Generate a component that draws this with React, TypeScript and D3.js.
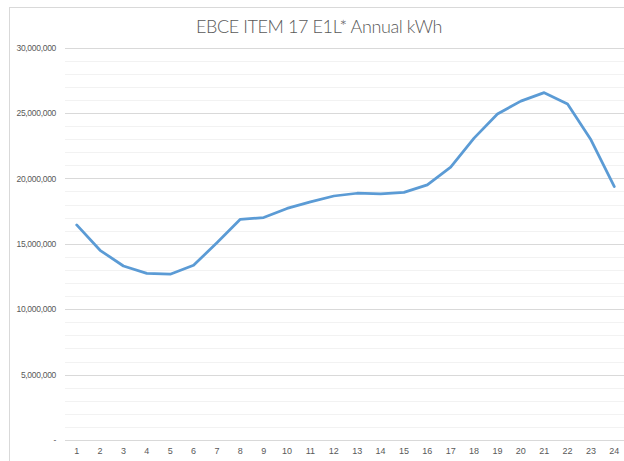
import React, { useEffect, useRef } from "react";
import * as d3 from "d3";

const hours = d3.range(1, 25).map(String);
const annualKwh = [
  16440000, 14500000, 13300000, 12740000, 12670000, 13350000, 15080000, 16870000,
  17000000, 17700000, 18200000, 18650000, 18860000, 18820000, 18930000, 19500000,
  20850000, 23070000, 24920000, 25900000, 26550000, 25690000, 22940000, 19370000,
];
const majorTicks = [0, 5000000, 10000000, 15000000, 20000000, 25000000, 30000000];
const title = "EBCE ITEM 17 E1L* Annual kWh";

const App = () => {
  const ref = useRef<SVGSVGElement | null>(null);

  useEffect(() => {
    const svg = d3.select(ref.current);
    svg.selectAll("*").remove();

    const width = 624;
    const height = 461;
    const margin = { top: 47.5, left: 65, bottom: 21, right: -2 };

    // chart frame
    svg
      .append("rect")
      .attr("x", 9.5)
      .attr("y", 7.5)
      .attr("width", width)
      .attr("height", height)
      .attr("fill", "#fff")
      .attr("stroke", "#d9d9d9");

    const x = d3
      .scaleBand()
      .domain(hours)
      .range([margin.left, width - margin.right]);
    const y = d3
      .scaleLinear()
      .domain([0, 30000000])
      .range([height - margin.bottom, margin.top]);

    // minor gridlines
    const minor = d3.range(0, 30000001, 1000000).filter((v) => v % 5000000 !== 0);
    svg
      .append("g")
      .selectAll("line")
      .data(minor)
      .join("line")
      .attr("x1", margin.left)
      .attr("x2", width)
      .attr("y1", (d) => Math.round(y(d)) + 0.5)
      .attr("y2", (d) => Math.round(y(d)) + 0.5)
      .attr("stroke", "#f2f2f2");

    // major gridlines
    svg
      .append("g")
      .selectAll("line")
      .data(majorTicks)
      .join("line")
      .attr("x1", margin.left)
      .attr("x2", width)
      .attr("y1", (d) => Math.round(y(d)) + 0.5)
      .attr("y2", (d) => Math.round(y(d)) + 0.5)
      .attr("stroke", "#d9d9d9");

    const fmt = d3.format(",");

    const yAxis = svg
      .append("g")
      .attr("transform", `translate(${margin.left - 9},0)`)
      .call(
        d3
          .axisLeft(y)
          .tickValues(majorTicks)
          .tickSize(0)
          .tickPadding(0)
          .tickFormat((d) => (+d === 0 ? "-" : fmt(+d)))
      );
    yAxis.select(".domain").remove();
    yAxis
      .selectAll("text")
      .attr("fill", "#595959")
      .attr("font-size", 8.5)
      .attr("letter-spacing", -0.3)
      .attr("font-family", "'Liberation Sans', Arial, sans-serif");

    const xAxis = svg
      .append("g")
      .attr("transform", `translate(0,${height - margin.bottom + 5})`)
      .call(d3.axisBottom(x).tickSize(0).tickPadding(3));
    xAxis.select(".domain").remove();
    xAxis
      .selectAll("text")
      .attr("fill", "#595959")
      .attr("font-size", 9)
      .attr("font-family", "'Liberation Sans', Arial, sans-serif");

    const line = d3
      .line<number>()
      .x((d, i) => (x(hours[i]) as number) + x.bandwidth() / 2)
      .y((d) => y(d));

    svg
      .append("path")
      .datum(annualKwh)
      .attr("fill", "none")
      .attr("stroke", "#5b9bd5")
      .attr("stroke-width", 2.75)
      .attr("stroke-linejoin", "round")
      .attr("stroke-linecap", "round")
      .attr("d", line);

    svg
      .append("text")
      .attr("x", 319)
      .attr("y", 33)
      .attr("text-anchor", "middle")
      .attr("fill", "#595959")
      .attr("font-size", 18)
      .attr("font-weight", 300)
      .attr("letter-spacing", -0.4)
      .attr("font-family", "Lato, 'Open Sans', sans-serif")
      .text(title);
  }, []);

  return (
    <svg
      ref={ref}
      width={624}
      height={461}
      style={{ position: "absolute", left: 0, top: 0, display: "block" }}
    />
  );
};

export default App;
